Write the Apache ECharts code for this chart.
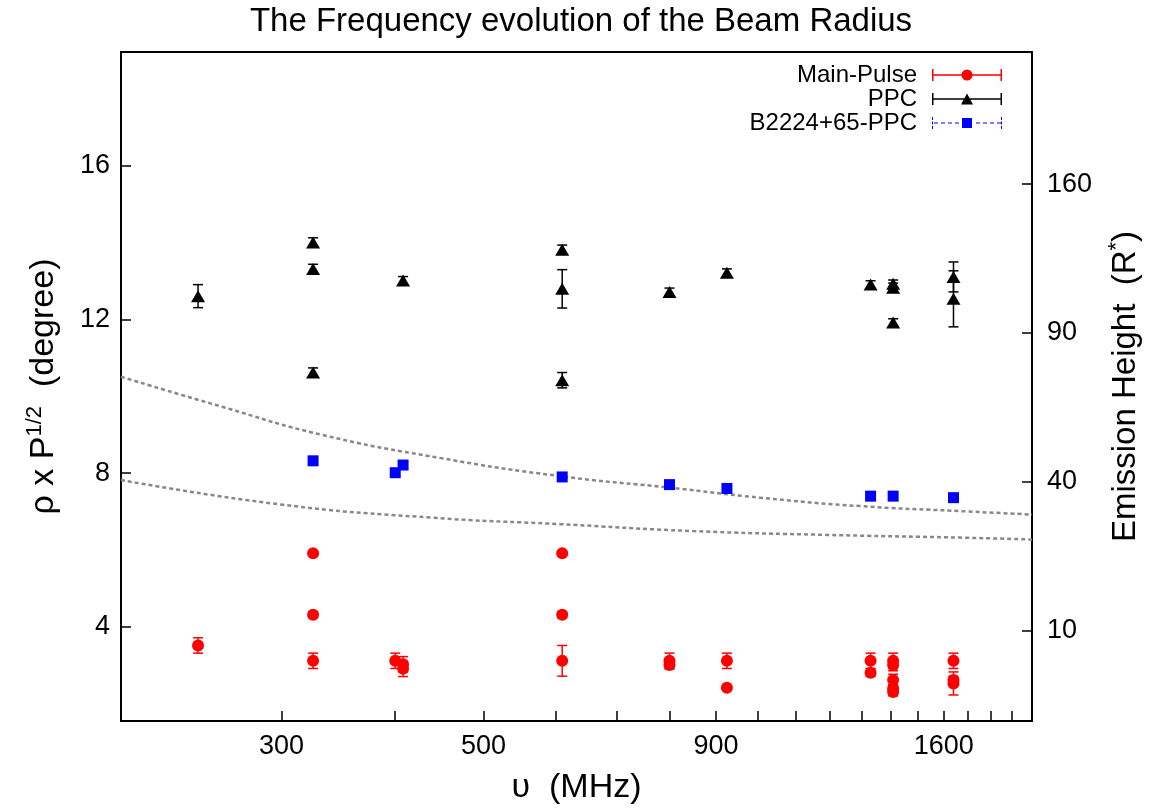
<!DOCTYPE html>
<html>
<head>
<meta charset="utf-8">
<title>Beam Radius</title>
<script src="https://cdn.jsdelivr.net/npm/echarts@6/dist/echarts.min.js"></script>
<style>
  html, body { margin: 0; padding: 0; background: #fff; }
  #chart { width: 1161px; height: 810px; }
</style>
</head>
<body>
<div id="chart"></div>
<script>
// frequency (MHz), rho x sqrt(P) (degree), error
const mpFreq = [243, 325, 325, 325, 400, 408, 408, 610, 610, 610, 800, 800, 925, 925, 1330, 1330, 1408, 1408, 1408, 1408, 1408, 1640, 1640, 1640];
const mpRho  = [3.51, 5.91, 4.31, 3.11, 3.11, 3.02, 2.90, 5.91, 4.31, 3.11, 3.11, 3.00, 3.11, 2.41, 3.11, 2.80, 3.11, 3.00, 2.61, 2.39, 2.30, 3.11, 2.61, 2.52];
const mpErr  = [0.2, 0.05, 0.08, 0.2, 0.2, 0.2, 0.2, 0.05, 0.08, 0.4, 0.2, 0.1, 0.2, 0.05, 0.2, 0.1, 0.2, 0.15, 0.15, 0.1, 0.1, 0.2, 0.1, 0.3];

const ppcFreq = [243, 325, 325, 325, 408, 610, 610, 610, 800, 925, 1330, 1408, 1408, 1408, 1640, 1640];
const ppcRho  = [12.61, 14.01, 13.32, 10.62, 13.02, 13.82, 12.80, 10.42, 12.72, 13.22, 12.91, 12.93, 12.83, 11.92, 13.11, 12.54];
const ppcErr  = [0.3, 0.12, 0.12, 0.12, 0.1, 0.12, 0.5, 0.2, 0.1, 0.1, 0.1, 0.1, 0.12, 0.1, 0.39, 0.73];

const bFreq = [325, 400, 408, 610, 800, 925, 1330, 1408, 1640];
const bRho  = [8.32, 8.01, 8.21, 7.90, 7.70, 7.60, 7.40, 7.40, 7.36];

// dotted model curves
const upperFreq = [200, 258, 332, 449, 607, 801, 1006, 1295, 1667, 2000];
const upperRho  = [10.51, 9.73, 9.00, 8.39, 7.92, 7.62, 7.36, 7.14, 7.01, 6.92];
const lowerFreq = [200, 300, 438, 607, 849, 1191, 1667, 2000];
const lowerRho  = [7.82, 7.18, 6.84, 6.67, 6.49, 6.39, 6.32, 6.27];

const xTicks = [300, 400, 500, 600, 700, 800, 900, 1000, 1100, 1200, 1300, 1400, 1500, 1600, 1700, 1800, 1900];
const xLabels = [300, 500, 900, 1600];
const rhoTicks = [4, 8, 12, 16];
const heightTicks = [10, 40, 90, 160];

const FONT = 'Liberation Sans, Arial, sans-serif';

function errorBars(name, freq, val, err, color) {
  return {
    type: 'custom',
    name: name + ' err',
    xAxisIndex: 0,
    yAxisIndex: 0,
    silent: true,
    z: 3,
    data: freq.map((f, i) => [f, val[i], err[i]]),
    encode: { x: 0, y: 1 },
    renderItem: function (params, api) {
      const x = api.value(0), y = api.value(1), e = api.value(2);
      const hi = api.coord([x, y + e]);
      const lo = api.coord([x, y - e]);
      const w = 5;
      const st = { stroke: color, lineWidth: 1.5 };
      return {
        type: 'group',
        children: [
          { type: 'line', shape: { x1: hi[0], y1: hi[1], x2: lo[0], y2: lo[1] }, style: st },
          { type: 'line', shape: { x1: hi[0] - w, y1: hi[1], x2: hi[0] + w, y2: hi[1] }, style: st },
          { type: 'line', shape: { x1: lo[0] - w, y1: lo[1], x2: lo[0] + w, y2: lo[1] }, style: st }
        ]
      };
    }
  };
}

// legend icons: error bar line + marker, 70 x 12
const capL = 'M0 0H1.5V12H0Z', capR = 'M68.5 0H70V12H68.5Z';
const iconMain = 'path://' + capL + 'M1.5 5.3H31V6.7H1.5Z' +
  'M29.5 6A5.5 5.5 0 1 1 40.5 6A5.5 5.5 0 1 1 29.5 6Z' + 'M39 5.3H68.5V6.7H39Z' + capR;
const iconPPC = 'path://' + capL + 'M1.5 5.3H33V6.7H1.5Z' +
  'M29 11.5L35 0.5L41 11.5Z' + 'M37 5.3H68.5V6.7H37Z' + capR;
let dash = 'M0 0H1V3H0Z M0 4.5H1V7.5H0Z M0 9H1V12H0Z M69 0H70V3H69Z M69 4.5H70V7.5H69Z M69 9H70V12H69Z';
for (let x = 2; x < 68; x += 7) {
  if (x > 26 && x < 41) continue;
  dash += 'M' + x + ' 5.5H' + (x + 4) + 'V6.5H' + x + 'Z';
}
const iconB = 'path://' + dash + 'M30 1H40V11H30Z';

const chart = echarts.init(document.getElementById('chart'));

const option = {
  animation: false,
  backgroundColor: '#fff',
  title: {
    text: 'The Frequency evolution of the Beam Radius',
    left: 576,
    textAlign: 'center',
    top: 0,
    textStyle: { fontFamily: FONT, fontSize: 33, fontWeight: 'normal', color: '#000' }
  },
  legend: {
    orient: 'vertical',
    right: 159,
    top: 63,
    padding: 0,
    align: 'right',
    itemWidth: 70,
    itemHeight: 12,
    itemGap: 0,
    selectedMode: false,
    itemStyle: { opacity: 1 },
    textStyle: { fontFamily: FONT, fontSize: 24, color: '#000', padding: [0, 10, 0, 0] },
    data: [
      { name: 'Main-Pulse', icon: iconMain },
      { name: 'PPC', icon: iconPPC },
      { name: 'B2224+65-PPC', icon: iconB }
    ]
  },
  grid: {
    left: 121, right: 129, top: 52, bottom: 86,
    show: true, borderColor: '#000', borderWidth: 2
  },
  xAxis: {
    type: 'log',
    logBase: 10,
    min: 200,
    max: 2000,
    name: 'υ  (MHz)',
    nameLocation: 'middle',
    nameGap: 50,
    nameTextStyle: { fontFamily: FONT, fontSize: 34, color: '#000' },
    axisLine: { lineStyle: { color: '#000', width: 2 } },
    axisTick: { inside: true, length: 10, customValues: xTicks, lineStyle: { color: '#000', width: 1.5 } },
    axisLabel: {
      customValues: xLabels,
      formatter: v => String(Math.round(v)),
      fontFamily: FONT, fontSize: 27, color: '#000', margin: 12
    },
    minorTick: { show: false },
    splitLine: { show: false }
  },
  yAxis: [
    {
      type: 'value',
      min: 1.542,
      max: 18.97,
      name: '{m|ρ x P}{s|1/2}{m|  (degree)}',
      nameLocation: 'middle',
      nameGap: 57,
      nameTextStyle: {
        rich: {
          m: { fontFamily: FONT, fontSize: 34, color: '#000', lineHeight: 40 },
          s: { fontFamily: FONT, fontSize: 22, color: '#000', lineHeight: 22, verticalAlign: 'top' }
        }
      },
      axisLine: { lineStyle: { color: '#000', width: 2 } },
      axisTick: { inside: true, length: 10, customValues: rhoTicks, lineStyle: { color: '#000', width: 1.5 } },
      axisLabel: { customValues: rhoTicks, fontFamily: FONT, fontSize: 27, color: '#000', margin: 11 },
      splitLine: { show: false }
    },
    {
      // emission height axis, scaled as sqrt(h)
      type: 'value',
      position: 'right',
      min: 1.235,
      max: 15.46,
      name: '{m|Emission Height  (R}{s|*}{m|)}',
      nameLocation: 'middle',
      nameGap: 74,
      nameTextStyle: {
        rich: {
          m: { fontFamily: FONT, fontSize: 33, color: '#000', lineHeight: 40 },
          s: { fontFamily: FONT, fontSize: 22, color: '#000', lineHeight: 30, verticalAlign: 'top' }
        }
      },
      axisLine: { lineStyle: { color: '#000', width: 2 } },
      axisTick: { inside: true, length: 10, customValues: heightTicks.map(Math.sqrt), lineStyle: { color: '#000', width: 1.5 } },
      axisLabel: {
        customValues: heightTicks.map(Math.sqrt),
        formatter: v => String(Math.round(v * v)),
        fontFamily: FONT, fontSize: 27, color: '#000', margin: 15
      },
      splitLine: { show: false }
    }
  ],
  series: [
    {
      type: 'line', name: 'upper model', smooth: true, symbol: 'none', z: 1, silent: true,
      data: upperFreq.map((f, i) => [f, upperRho[i]]),
      lineStyle: { color: '#888', width: 2.5, type: [4, 3] }
    },
    {
      type: 'line', name: 'lower model', smooth: true, symbol: 'none', z: 1, silent: true,
      data: lowerFreq.map((f, i) => [f, lowerRho[i]]),
      lineStyle: { color: '#888', width: 2.5, type: [4, 3] }
    },
    errorBars('Main-Pulse', mpFreq, mpRho, mpErr, '#ff0000'),
    errorBars('PPC', ppcFreq, ppcRho, ppcErr, '#000000'),
    {
      type: 'scatter', name: 'Main-Pulse', z: 4, symbol: 'circle', symbolSize: 12,
      itemStyle: { color: '#ff0000', opacity: 1 },
      data: mpFreq.map((f, i) => [f, mpRho[i]])
    },
    {
      type: 'scatter', name: 'PPC', z: 4, symbol: 'triangle', symbolSize: [14, 12],
      itemStyle: { color: '#000000', opacity: 1 },
      data: ppcFreq.map((f, i) => [f, ppcRho[i]])
    },
    {
      type: 'scatter', name: 'B2224+65-PPC', z: 4, symbol: 'rect', symbolSize: 11,
      itemStyle: { color: '#0000ff', opacity: 1 },
      data: bFreq.map((f, i) => [f, bRho[i]])
    }
  ]
};

chart.setOption(option);
</script>
</body>
</html>
